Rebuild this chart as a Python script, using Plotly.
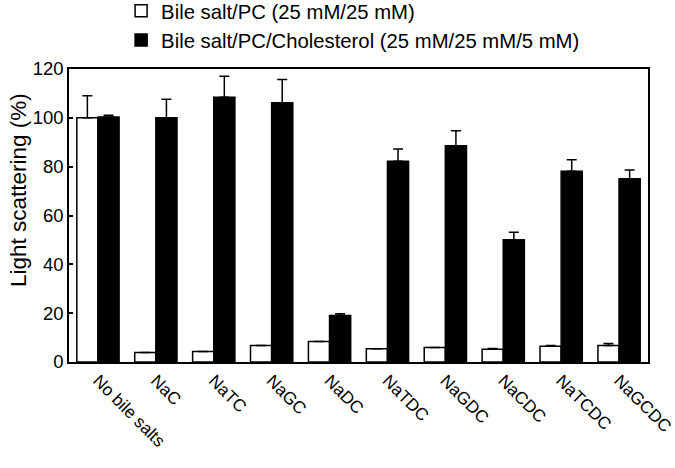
import plotly.graph_objects as go

categories = ["No bile salts", "NaC", "NaTC", "NaGC", "NaDC", "NaTDC", "NaGDC", "NaCDC", "NaTCDC", "NaGCDC"]
pc_values = [100, 3.9, 4.3, 6.8, 8.4, 5.4, 5.9, 5.2, 6.4, 6.8]
pc_errors = [9, 0, 0, 0, 0, 0, 0, 0.3, 0.4, 0.8]
chol_values = [100.3, 100, 108.4, 106.2, 19, 82.2, 88.6, 50.1, 78.1, 75.1]
chol_errors = [0.8, 7.6, 8.6, 9.5, 0.8, 5, 6.1, 3, 4.7, 3.5]
y_ticks = [0, 20, 40, 60, 80, 100, 120]

font = "Liberation Sans, Arial, sans-serif"

W, H = 675, 468
ML, MR, MT, MB = 69, 27, 69, 106
plot_w = W - ML - MR
plot_h = H - MT - MB

fig = go.Figure()
fig.add_trace(go.Bar(
    x=categories, y=pc_values, name="Bile salt/PC (25 mM/25 mM)",
    marker=dict(color="white", line=dict(color="black", width=1.5)),
    error_y=dict(type="data", array=pc_errors, arrayminus=[0]*len(pc_errors), symmetric=False,
                 color="black", thickness=1.5, width=5),
))
fig.add_trace(go.Bar(
    x=categories, y=chol_values, name="Bile salt/PC/Cholesterol (25 mM/25 mM/5 mM)",
    marker=dict(color="black", line=dict(color="black", width=1.5)),
    error_y=dict(type="data", array=chol_errors, arrayminus=[0]*len(chol_errors), symmetric=False,
                 color="black", thickness=1.5, width=5),
))

fig.update_layout(
    width=W, height=H,
    margin=dict(l=ML, r=MR, t=MT, b=MB, autoexpand=False),
    paper_bgcolor="white", plot_bgcolor="white",
    barmode="group", bargap=0.27, bargroupgap=0,
    font=dict(family=font, size=18, color="black"),
    showlegend=True,
    legend=dict(x=0.09, y=1 + 78 / plot_h, xanchor="left", yanchor="top",
                bgcolor="rgba(0,0,0,0)", font=dict(size=20.3), tracegroupgap=0),
    xaxis=dict(showline=True, linecolor="black", linewidth=1.5, mirror=True,
               ticks="", tickangle=45, tickfont=dict(size=17.2), showgrid=False),
    yaxis=dict(range=[0, 120], tickvals=y_ticks, showline=True, linecolor="black", linewidth=1.5,
               mirror=True, ticks="inside", ticklen=4, tickcolor="black", tickwidth=1.5,
               showgrid=False, zeroline=False, tickfont=dict(size=18.5)),
    annotations=[dict(text="Light scattering (%)", textangle=-90,
                      x=(18 - ML) / plot_w, y=(H - MB - 190) / plot_h,
                      xref="paper", yref="paper", xanchor="center", yanchor="middle",
                      showarrow=False, font=dict(size=22.5))],
)

fig.write_html("out.html", config={"displayModeBar": False},
               post_script="document.body.style.margin='0';")
